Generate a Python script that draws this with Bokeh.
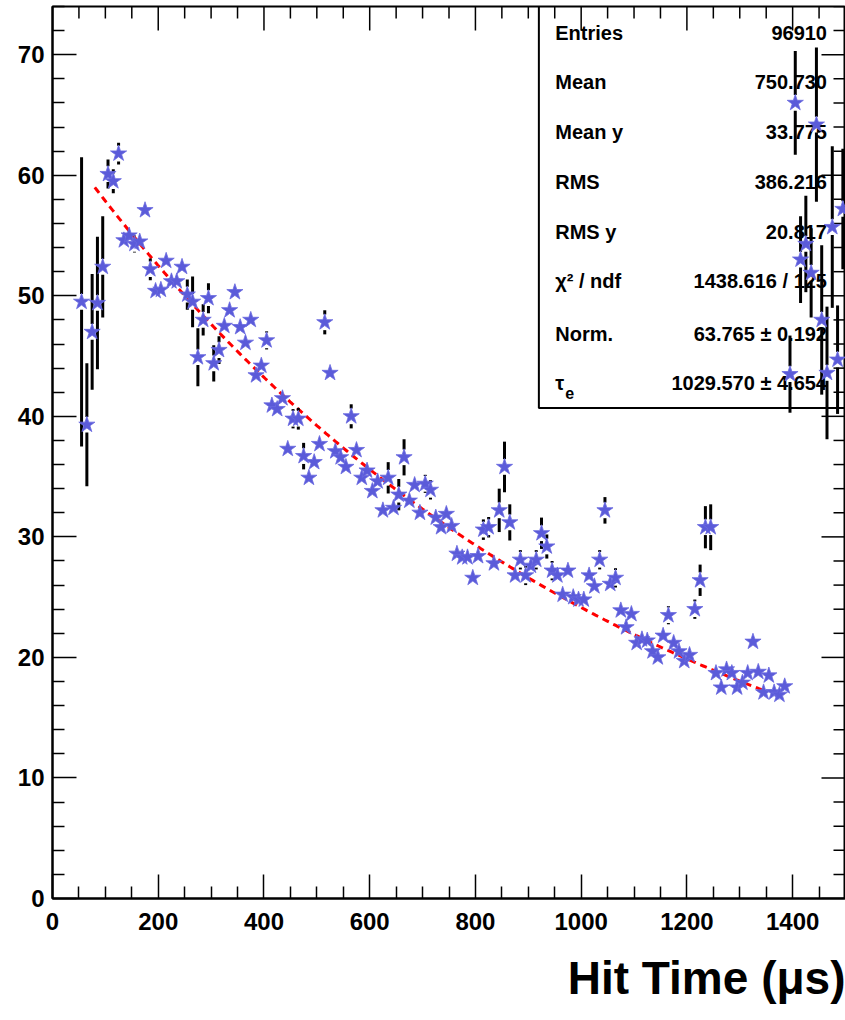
import numpy as np
from bokeh.plotting import figure
from bokeh.models import Range1d, FixedTicker, ColumnDataSource, Title
from bokeh.core.properties import value
from bokeh.embed import file_html
from bokeh.resources import INLINE

# ---------------- data ----------------
hit_time = [55, 65, 75, 85, 95, 105, 115, 125, 135, 145, 155, 165, 175, 185, 195,
            205, 215, 225, 235, 245, 255, 265, 275, 285, 295, 305, 315, 325, 335, 345,
            355, 365, 375, 385, 395, 405, 415, 425, 435, 445, 455, 465, 475, 485, 495,
            505, 515, 525, 535, 545, 555, 565, 575, 585, 595, 605, 615, 625, 635, 645,
            655, 665, 675, 685, 695, 705, 715, 725, 735, 745, 755, 765, 775, 785, 795,
            805, 815, 825, 835, 845, 855, 865, 875, 885, 895, 905, 915, 925, 935, 945,
            955, 965, 975, 985, 995, 1005, 1015, 1025, 1035, 1045, 1055, 1065, 1075, 1085, 1095,
            1105, 1115, 1125, 1135, 1145, 1155, 1165, 1175, 1185, 1195, 1205, 1215, 1225, 1235, 1245,
            1255, 1265, 1275, 1285, 1295, 1305, 1315, 1325, 1335, 1345, 1355, 1365, 1375, 1385, 1395,
            1405, 1415, 1425, 1435, 1445, 1455, 1465, 1475, 1485, 1495]

mean_hits = [49.5, 39.3, 47.0, 49.4, 52.4, 60.1, 59.5, 61.8, 54.6, 55.0, 54.3, 54.5, 57.1, 52.2, 50.4,
             50.5, 52.9, 51.2, 51.2, 52.4, 50.1, 49.5, 44.9, 48.0, 49.8, 44.4, 45.5, 47.5, 48.8, 50.3,
             47.4, 46.1, 48.0, 43.4, 44.2, 46.3, 40.9, 40.6, 41.5, 37.3, 39.8, 39.8, 36.7, 34.9, 36.2,
             37.7, 47.8, 43.6, 37.1, 36.6, 35.8, 40.0, 37.2, 34.9, 35.5, 33.8, 34.6, 32.2, 34.9, 32.4,
             33.5, 36.6, 33.0, 34.3, 32.0, 34.4, 33.9, 31.6, 30.8, 31.9, 30.9, 28.6, 28.3, 28.3, 26.6,
             28.4, 30.6, 30.8, 27.8, 32.2, 35.8, 31.2, 26.8, 28.1, 26.8, 27.6, 28.1, 30.3, 29.2, 27.2,
             26.8, 25.2, 27.2, 25.0, 24.8, 24.8, 26.8, 25.9, 28.1, 32.2, 26.1, 26.6, 23.9, 22.5, 23.6,
             21.2, 21.5, 21.4, 20.5, 20.0, 21.8, 23.5, 21.2, 20.5, 19.7, 20.2, 24.0, 26.4, 30.8, 30.8,
             18.7, 17.5, 19.0, 18.7, 17.5, 17.9, 18.7, 21.3, 18.8, 17.1, 18.5, 17.1, 16.9, 17.6, 43.5,
             66.0, 53.0, 54.3, 51.9, 64.2, 48.0, 43.6, 55.7, 44.7, 57.2]

hit_errors = [12.0, 5.1, 4.8, 5.5, 4.2, 1.2, 1.0, 0.9, 0.5, 0.6, 0.7, 0.5, 0.5, 0.9, 0.5,
              0.5, 0.5, 0.5, 0.5, 0.6, 1.25, 2.1, 2.4, 1.3, 1.25, 1.5, 1.15, 0.6, 0.5, 0.5,
              0.6, 0.5, 0.6, 0.6, 0.6, 0.75, 0.5, 0.5, 0.6, 0.6, 0.8, 0.9, 1.1, 0.6, 0.6,
              0.6, 1.0, 0.55, 0.6, 0.6, 0.5, 1.0, 0.6, 0.5, 0.5, 0.5, 0.5, 0.5, 1.3, 0.5,
              1.3, 1.5, 0.5, 0.6, 0.5, 0.75, 0.8, 0.5, 0.5, 0.5, 0.5, 0.5, 0.5, 0.5, 0.5,
              0.5, 0.85, 0.85, 0.5, 1.8, 2.1, 1.5, 0.5, 0.8, 0.8, 0.5, 0.8, 1.3, 1.0, 0.8,
              0.5, 0.5, 0.5, 0.5, 0.5, 0.5, 0.5, 0.5, 0.8, 1.1, 0.5, 0.8, 0.5, 0.5, 0.5,
              0.5, 0.5, 0.5, 0.5, 0.5, 0.5, 0.75, 0.5, 0.5, 0.5, 0.5, 0.8, 1.3, 1.75, 1.9,
              0.5, 0.5, 0.5, 0.5, 0.5, 0.5, 0.5, 0.5, 0.5, 0.5, 0.5, 0.5, 0.5, 0.5, 3.2,
              4.3, 3.6, 4.0, 3.7, 6.4, 6.2, 5.5, 6.7, 4.5, 5.0]

# fit parameters shown in the stats box
fit_norm = 63.765
fit_tau = 1029.570
fit_range = [80, 1350]

stat_labels = ["Entries", "Mean", "Mean y", "RMS", "RMS y", "χ² / ndf", "Norm.", "τ"]
stat_values = ["96910", "750.730", "33.775", "386.216", "20.817",
               "1438.616 / 125", "63.765 ± 0.192", "1029.570 ± 4.654"]

x_ticks = [0, 200, 400, 600, 800, 1000, 1200, 1400]
y_ticks = [0, 10, 20, 30, 40, 50, 60, 70]
x_minor = [v for v in range(0, 1501, 50) if v not in x_ticks]
y_minor = [v for v in range(0, 75, 2) if v not in y_ticks]

# ---------------- figure ----------------
FONT = "Liberation Sans"
XMAX = 1500.0
YMAX = 74.0
W, H = 845, 1020
BL, BR, BT = 52, 0, 6
FRAME_H = 891
p = figure(width=W, height=H, x_range=Range1d(0, XMAX), y_range=Range1d(0, YMAX),
           output_backend="svg", toolbar_location=None,
           min_border_left=BL, min_border_right=BR, min_border_top=BT, min_border_bottom=0,
           background_fill_color="white", border_fill_color="white")
p.grid.visible = False
p.outline_line_color = "black"
p.outline_line_width = 2

# data units per pixel (for tick lengths of the mirrored ticks)
xu = XMAX / (W - BL - BR)
yu = YMAX / FRAME_H

xt = FixedTicker(ticks=x_ticks, minor_ticks=x_minor)
yt = FixedTicker(ticks=y_ticks, minor_ticks=y_minor)

for ax, tk in ((p.xaxis[0], xt), (p.yaxis[0], yt)):
    ax.ticker = tk
    ax.axis_line_width = 2
    ax.axis_line_color = "black"
    ax.major_tick_line_width = 1.5
    ax.minor_tick_line_width = 1.5
    ax.major_tick_out = 0
    ax.minor_tick_out = 0
    ax.major_tick_in = 24
    ax.minor_tick_in = 12
    ax.major_label_text_font = FONT
    ax.major_label_text_font_style = "bold"
    ax.major_label_text_font_size = "24px"
    ax.major_label_text_color = "black"
    ax.major_label_standoff = 8
p.xaxis[0].major_label_standoff = 14

# x-axis title, right-aligned below the tick labels (ROOT style)
p.add_layout(Title(text="Hit Time (μs)", align="right", text_font=FONT,
                   text_font_style="bold", text_font_size="46px", text_color="black",
                   standoff=34), "below")

# mirrored ticks on top and right frame edges (ROOT style)
tx0, ty0, tx1, ty1 = [], [], [], []
for v in x_ticks:
    tx0.append(v); tx1.append(v); ty0.append(YMAX); ty1.append(YMAX - 24 * yu)
for v in x_minor:
    tx0.append(v); tx1.append(v); ty0.append(YMAX); ty1.append(YMAX - 12 * yu)
for v in y_ticks:
    ty0.append(v); ty1.append(v); tx0.append(XMAX); tx1.append(XMAX - 24 * xu)
for v in y_minor:
    ty0.append(v); ty1.append(v); tx0.append(XMAX); tx1.append(XMAX - 12 * xu)
p.segment(x0=tx0, y0=ty0, x1=tx1, y1=ty1, line_color="black", line_width=1.5)

# ---------------- stats box (drawn first, data over it) ----------------
box_left = 920.0
box_bottom = 40.7
p.quad(left=[box_left], right=[XMAX + 10], bottom=[box_bottom], top=[YMAX + 1],
       fill_alpha=0, line_color="black", line_width=2)

row_y = [71.8, 67.7, 63.6, 59.4, 55.3, 51.2, 46.8, 42.8]
src_l = ColumnDataSource(dict(x=[951] * len(stat_labels), y=row_y, t=stat_labels))
p.text(x="x", y="y", text="t", source=src_l, text_font=value(FONT), text_font_style="bold",
       text_font_size="20px", text_baseline="middle", text_align="left", text_color="black")
p.text(x=[951 + 19], y=[row_y[-1] - 0.9], text=["e"], text_font=value(FONT),
       text_font_style="bold", text_font_size="16px", text_baseline="middle",
       text_align="left", text_color="black")
src_v = ColumnDataSource(dict(x=[1465] * len(stat_values), y=row_y, t=stat_values))
p.text(x="x", y="y", text="t", source=src_v, text_font=value(FONT), text_font_style="bold",
       text_font_size="20px", text_baseline="middle", text_align="right", text_color="black")

# ---------------- fit curve ----------------
fx = np.linspace(fit_range[0], fit_range[1], 300)
fy = fit_norm * np.exp(-fx / fit_tau)
p.line(fx, fy, line_color="#ff0000", line_width=3, line_dash="7 5")

# ---------------- error bars (split around marker, ROOT style) ----------------
gap = 0.65
x0, y0, x1, y1 = [], [], [], []
for xv, yv, ev in zip(hit_time, mean_hits, hit_errors):
    if ev > gap:
        x0 += [xv, xv]
        x1 += [xv, xv]
        y0 += [yv + gap, yv - gap]
        y1 += [yv + ev, yv - ev]
p.segment(x0=x0, y0=y0, x1=x1, y1=y1, line_color="black", line_width=3, line_cap="butt")

# ---------------- markers ----------------
p.scatter(hit_time, mean_hits, marker="star", size=17, fill_color="#5b5bd9",
          line_color="#6a6ae0", line_width=0.8)

open("out.html", "w").write(file_html(p, INLINE))
